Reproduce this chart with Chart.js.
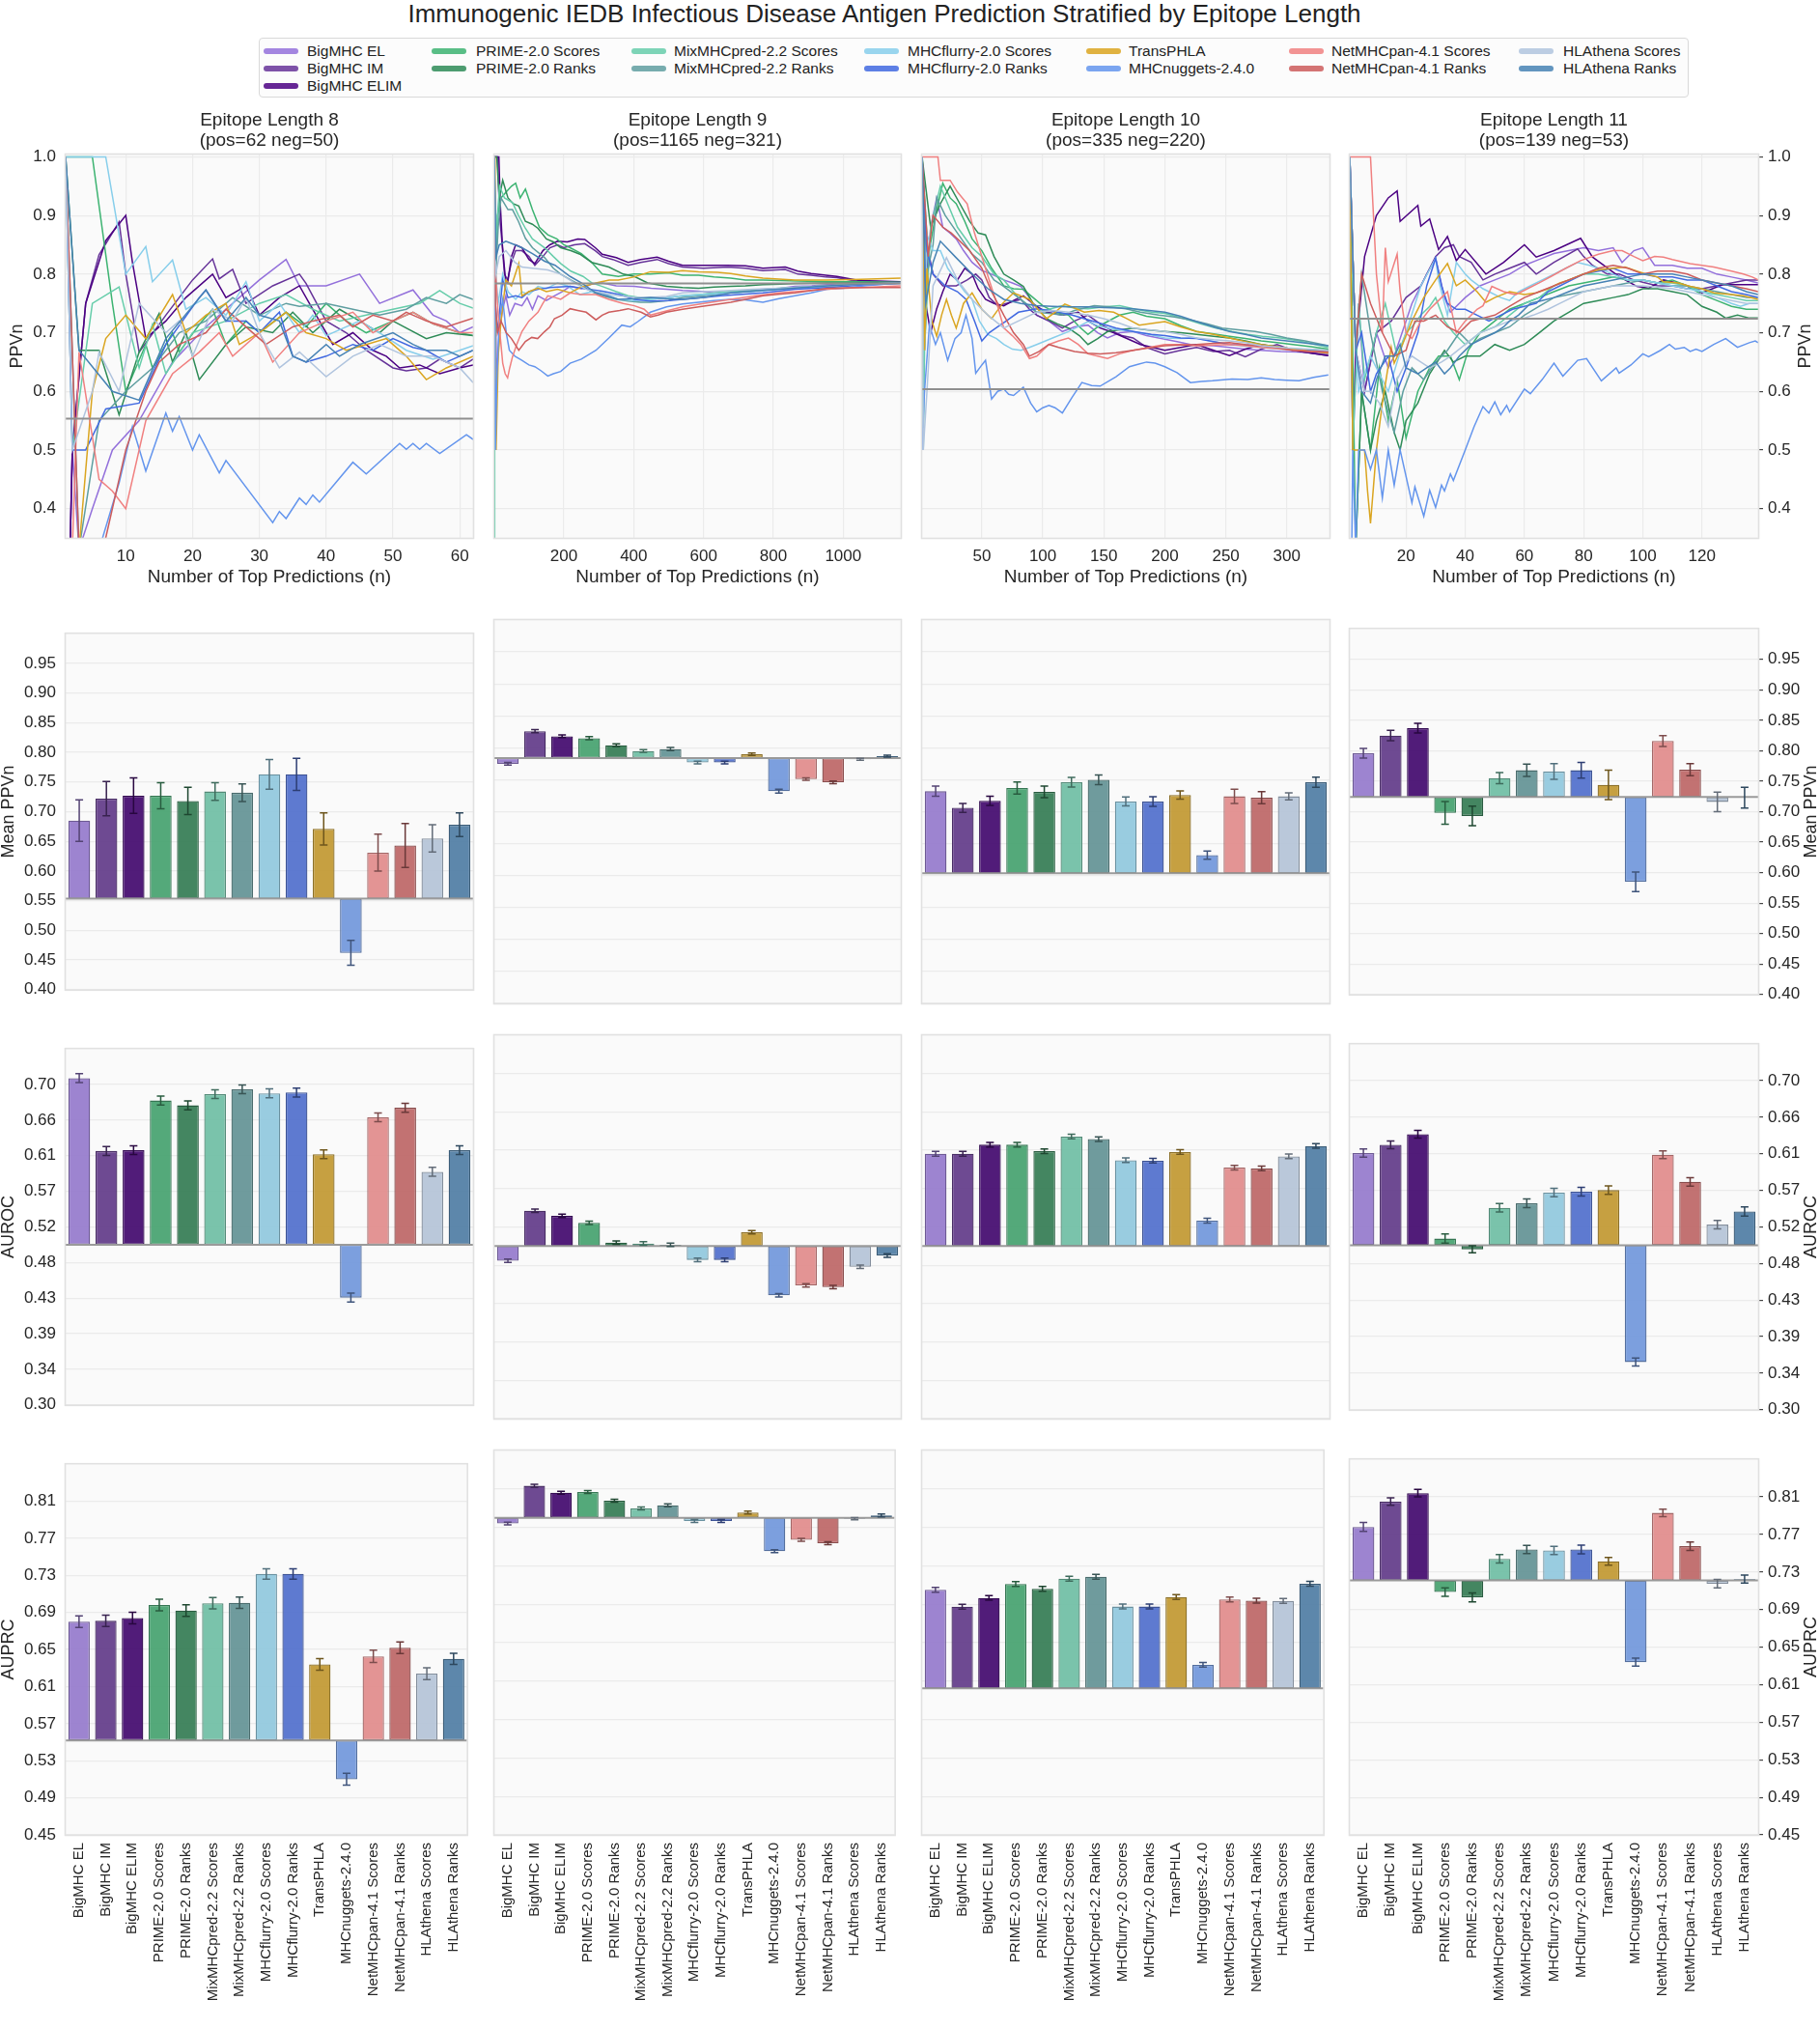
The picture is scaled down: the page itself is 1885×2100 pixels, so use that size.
<!DOCTYPE html>
<html><head><meta charset="utf-8">
<script src="https://cdn.jsdelivr.net/npm/chart.js@4.4.1/dist/chart.umd.min.js"></script>
<style>
body{margin:0;background:#fff;width:1885px;height:2100px;position:relative;overflow:hidden;font-family:"Liberation Sans",Arial,sans-serif;}
canvas{position:absolute;}
#title{position:absolute;top:0;left:0;width:1832px;text-align:center;font-size:26px;line-height:28px;color:#222;}
#legend{position:absolute;left:268px;top:39px;width:1481px;height:62px;border:1px solid #d9d9d9;border-radius:4px;background:#fcfcfc;box-sizing:border-box;}
.li{position:absolute;font-size:15.5px;color:#222;line-height:18px;white-space:nowrap;}
.hd{position:absolute;height:6px;width:36px;border-radius:3px;}
</style></head>
<body>
<div id="title">Immunogenic IEDB Infectious Disease Antigen Prediction Stratified by Epitope Length</div>
<div id="legend"></div>
<script>
// ---------------- DATA ----------------
const models = ['BigMHC EL','BigMHC IM','BigMHC ELIM','PRIME-2.0 Scores','PRIME-2.0 Ranks','MixMHCpred-2.2 Scores','MixMHCpred-2.2 Ranks','MHCflurry-2.0 Scores','MHCflurry-2.0 Ranks','TransPHLA','MHCnuggets-2.4.0','NetMHCpan-4.1 Scores','NetMHCpan-4.1 Ranks','HLAthena Scores','HLAthena Ranks'];
const colors = ['#9370DB','#663399','#4B0082','#3CB371','#2E8B57','#66CDAA','#5F9EA0','#87CEEB','#4169E1','#DAA520','#6495ED','#F08080','#CD5C5C','#B0C4DE','#4682B4'];
const epitopeLengths = [8,9,10,11];
const posCounts = [62,1165,335,139];
const negCounts = [50,321,220,53];
const ppvBaseline = [0.5536,0.784,0.6036,0.724];
const aurocBaseline = [0.5,0.5,0.5,0.5];
const auprcBaseline = [0.552,0.780,0.6024,0.721];

const xTicks_L8 = [10,20,30,40,50,60];
const xTicks_L9 = [200,400,600,800,1000];
const xTicks_L10 = [50,100,150,200,250,300];
const xTicks_L11 = [20,40,60,80,100,120];
const ppvTicks = [0.4,0.5,0.6,0.7,0.8,0.9,1.0];
const meanPPVTicks = [0.40,0.45,0.50,0.55,0.60,0.65,0.70,0.75,0.80,0.85,0.90,0.95];
const aurocTicks = [0.30,0.3444,0.3889,0.4333,0.4778,0.5222,0.5667,0.6111,0.6556,0.70];
const auprcTicks = [0.45,0.49,0.53,0.57,0.61,0.65,0.69,0.73,0.77,0.81];

// PPVn curves: [n, PPVn] vertices per model (order = models)
const ppvCurves_L8 = [
 [[1,0],[2,0.5],[3,0.33],[5,0.4],[8,0.5],[12,0.55],[17,0.65],[22,0.71],[27,0.76],[30,0.79],[34,0.825],[36,0.78],[40,0.78],[45,0.80],[48,0.75],[53,0.773],[56,0.73],[58,0.72],[60,0.70],[62,0.71]],
 [[1,0],[2,0.5],[4,0.75],[6,0.833],[9,0.889],[10,0.8],[12,0.667],[16,0.73],[20,0.79],[23,0.826],[24,0.792],[26,0.808],[28,0.75],[32,0.78],[36,0.80],[37,0.784],[40,0.72],[43,0.70],[46,0.67],[50,0.64],[52,0.635],[55,0.64],[57,0.655],[60,0.64],[62,0.655]],
 [[1,0],[2,0.5],[4,0.75],[7,0.857],[10,0.9],[11,0.82],[13,0.69],[16,0.72],[19,0.76],[23,0.80],[25,0.76],[28,0.78],[30,0.73],[33,0.76],[36,0.78],[38,0.74],[41,0.68],[44,0.70],[47,0.67],[49,0.66],[51,0.64],[54,0.645],[57,0.63],[60,0.64],[62,0.645]],
 [[1,1],[5,1],[8,0.75],[10,0.6],[13,0.68],[14,0.64],[17,0.70],[18,0.667],[21,0.714],[23,0.74],[25,0.68],[28,0.72],[30,0.70],[34,0.735],[37,0.71],[40,0.75],[43,0.72],[46,0.70],[50,0.72],[53,0.735],[56,0.715],[60,0.70],[62,0.695]],
 [[1,1],[3,0.67],[6,0.67],[9,0.56],[12,0.667],[15,0.733],[17,0.65],[19,0.70],[21,0.62],[25,0.68],[28,0.71],[32,0.70],[35,0.735],[38,0.70],[42,0.74],[45,0.72],[48,0.70],[50,0.72],[55,0.69],[58,0.70],[62,0.695]],
 [[1,1],[2,0.5],[5,0.75],[9,0.778],[12,0.64],[14,0.714],[16,0.63],[20,0.70],[25,0.72],[30,0.75],[34,0.765],[38,0.74],[42,0.72],[46,0.73],[50,0.74],[54,0.75],[57,0.772],[60,0.75],[62,0.742]],
 [[1,1],[3,0.33],[6,0.55],[10,0.6],[14,0.64],[18,0.70],[22,0.72],[26,0.76],[30,0.73],[34,0.75],[36,0.745],[40,0.75],[44,0.74],[48,0.73],[52,0.74],[55,0.76],[58,0.75],[60,0.765],[62,0.757]],
 [[1,1],[7,1],[10,0.8],[13,0.847],[14,0.787],[17,0.824],[19,0.74],[22,0.76],[25,0.73],[28,0.787],[30,0.72],[33,0.75],[36,0.70],[38,0.73],[40,0.695],[45,0.72],[48,0.70],[52,0.67],[56,0.655],[60,0.67],[62,0.678]],
 [[1,1],[2,0.5],[4,0.5],[7,0.57],[12,0.58],[16,0.68],[21,0.76],[22,0.773],[25,0.72],[28,0.72],[30,0.70],[33,0.735],[35,0.66],[37,0.65],[40,0.66],[44,0.68],[47,0.67],[50,0.69],[53,0.675],[55,0.67],[58,0.65],[60,0.66],[62,0.67]],
 [[1,0],[2,0],[3,0.33],[5,0.6],[7,0.69],[10,0.73],[13,0.69],[17,0.765],[19,0.70],[22,0.73],[25,0.75],[27,0.68],[30,0.70],[34,0.735],[37,0.70],[40,0.69],[43,0.67],[46,0.68],[49,0.69],[52,0.66],[55,0.62],[58,0.64],[62,0.66]],
 [[1,0],[2,0],[4,0.25],[6,0.33],[9,0.444],[11,0.54],[13,0.464],[16,0.563],[17,0.532],[18,0.557],[20,0.50],[21,0.526],[24,0.461],[25,0.482],[32,0.376],[33,0.395],[34,0.383],[36,0.418],[37,0.407],[38,0.423],[39,0.411],[44,0.479],[46,0.459],[51,0.511],[52,0.501],[53,0.511],[54,0.501],[55,0.511],[57,0.494],[61,0.526],[62,0.518]],
 [[1,0],[3,0.667],[6,0.45],[8,0.43],[10,0.40],[13,0.55],[17,0.63],[21,0.667],[24,0.70],[26,0.66],[30,0.70],[32,0.65],[36,0.70],[40,0.72],[44,0.735],[47,0.70],[50,0.72],[53,0.735],[56,0.715],[60,0.70],[62,0.70]],
 [[1,1],[3,0.33],[5,0.2],[7,0.35],[10,0.5],[13,0.6],[15,0.65],[18,0.68],[22,0.70],[25,0.74],[27,0.72],[30,0.69],[31,0.68],[35,0.71],[38,0.72],[42,0.73],[44,0.71],[47,0.73],[50,0.72],[52,0.735],[55,0.72],[58,0.71],[62,0.725]],
 [[1,1],[2,0.5],[5,0.6],[6,0.667],[9,0.6],[12,0.75],[16,0.70],[18,0.72],[20,0.66],[23,0.74],[26,0.72],[28,0.76],[30,0.70],[33,0.64],[36,0.667],[40,0.625],[44,0.66],[48,0.68],[52,0.66],[56,0.66],[60,0.64],[62,0.615]],
 [[1,1],[3,0.67],[8,0.6],[12,0.585],[16,0.69],[22,0.773],[25,0.72],[28,0.76],[30,0.73],[33,0.72],[35,0.66],[37,0.65],[40,0.68],[42,0.66],[45,0.68],[50,0.70],[53,0.68],[55,0.67],[58,0.67],[60,0.66],[62,0.67]]
];
const ppvCurves_L9 = [
 [[1,1],[4,0.75],[8,0.62],[15,0.70],[25,0.74],[34,0.763],[45,0.73],[60,0.75],[80,0.746],[95,0.76],[110,0.74],[126,0.763],[150,0.755],[173,0.763],[195,0.77],[218,0.779],[250,0.775],[280,0.783],[310,0.785],[350,0.78],[402,0.779],[450,0.776],[494,0.774],[540,0.772],[586,0.771],[630,0.768],[678,0.769],[720,0.772],[770,0.774],[820,0.776],[862,0.779],[910,0.78],[954,0.782],[1000,0.784],[1050,0.785],[1100,0.786],[1165,0.786]],
 [[1,1],[10,1],[16,0.9],[22,0.86],[30,0.80],[39,0.79],[50,0.82],[62,0.84],[80,0.84],[100,0.83],[117,0.815],[140,0.83],[160,0.845],[182,0.85],[200,0.845],[230,0.85],[260,0.852],[290,0.84],[310,0.83],[340,0.825],[384,0.815],[420,0.82],[467,0.825],[500,0.818],[540,0.812],[600,0.81],[669,0.812],[720,0.81],[770,0.806],[834,0.808],[870,0.80],[908,0.798],[950,0.795],[982,0.794],[1046,0.787],[1100,0.787],[1165,0.786]],
 [[1,1],[14,1],[18,0.92],[24,0.85],[33,0.79],[39,0.785],[50,0.83],[62,0.85],[80,0.845],[100,0.825],[117,0.818],[140,0.84],[160,0.85],[182,0.856],[210,0.855],[240,0.86],[260,0.859],[290,0.845],[310,0.834],[350,0.828],[384,0.82],[420,0.825],[467,0.829],[500,0.822],[540,0.815],[600,0.815],[669,0.815],[720,0.814],[770,0.81],[834,0.812],[870,0.805],[908,0.801],[950,0.798],[982,0.796],[1046,0.789],[1100,0.788],[1165,0.787]],
 [[1,1],[5,0.8],[10,0.9],[20,0.93],[35,0.94],[50,0.95],[62,0.955],[75,0.93],[90,0.945],[110,0.91],[130,0.88],[154,0.867],[180,0.86],[200,0.85],[218,0.845],[250,0.835],[280,0.82],[310,0.80],[356,0.796],[400,0.80],[448,0.80],[500,0.802],[540,0.798],[586,0.798],[630,0.795],[678,0.793],[720,0.79],[770,0.79],[820,0.789],[870,0.788],[954,0.787],[1050,0.787],[1165,0.786]],
 [[1,1],[8,1],[15,0.93],[25,0.96],[40,0.93],[55,0.92],[71,0.916],[90,0.89],[110,0.885],[126,0.878],[150,0.86],[170,0.855],[191,0.845],[220,0.84],[246,0.834],[280,0.82],[329,0.812],[370,0.80],[402,0.796],[440,0.785],[494,0.779],[540,0.777],[586,0.776],[630,0.778],[678,0.779],[720,0.78],[770,0.782],[820,0.783],[862,0.784],[954,0.785],[1165,0.785]],
 [[1,0],[2,0.5],[5,0.8],[10,0.9],[16,0.95],[30,0.93],[53,0.922],[70,0.90],[90,0.878],[110,0.86],[145,0.845],[170,0.83],[191,0.818],[220,0.805],[255,0.796],[280,0.785],[310,0.779],[350,0.77],[384,0.763],[420,0.76],[448,0.757],[500,0.76],[540,0.763],[600,0.766],[678,0.771],[740,0.772],[816,0.776],[880,0.778],[954,0.78],[1050,0.783],[1165,0.785]],
 [[1,1],[5,0.8],[12,0.88],[20,0.93],[40,0.91],[53,0.91],[70,0.89],[90,0.861],[110,0.845],[145,0.828],[170,0.81],[191,0.80],[220,0.79],[255,0.779],[280,0.77],[310,0.763],[350,0.757],[384,0.754],[420,0.752],[448,0.752],[500,0.755],[540,0.76],[600,0.763],[678,0.768],[740,0.771],[816,0.775],[880,0.777],[954,0.78],[1050,0.783],[1165,0.785]],
 [[1,1],[5,0.8],[12,0.75],[25,0.80],[40,0.77],[62,0.757],[80,0.77],[100,0.765],[126,0.779],[150,0.775],[182,0.785],[210,0.78],[246,0.765],[280,0.77],[310,0.768],[356,0.757],[400,0.755],[448,0.757],[500,0.76],[540,0.763],[600,0.765],[678,0.768],[740,0.77],[816,0.774],[880,0.776],[954,0.779],[1050,0.782],[1165,0.785]],
 [[1,1],[4,0.75],[10,0.7],[25,0.79],[40,0.76],[62,0.763],[80,0.76],[100,0.77],[126,0.774],[160,0.777],[218,0.779],[260,0.775],[310,0.771],[360,0.765],[402,0.757],[448,0.754],[500,0.755],[540,0.757],[600,0.76],[650,0.763],[720,0.766],[770,0.768],[862,0.774],[954,0.777],[1050,0.781],[1165,0.784]],
 [[1,1],[3,0.67],[6,0.5],[12,0.66],[20,0.72],[34,0.79],[50,0.78],[71,0.818],[80,0.763],[100,0.77],[126,0.776],[150,0.77],[182,0.774],[218,0.768],[250,0.778],[292,0.785],[330,0.79],[356,0.79],[400,0.795],[448,0.804],[500,0.803],[540,0.806],[586,0.804],[640,0.803],[678,0.801],[720,0.797],[770,0.793],[862,0.79],[954,0.79],[1050,0.791],[1165,0.793]],
 [[1,1],[4,0.5],[8,0.62],[15,0.72],[25,0.757],[35,0.70],[44,0.67],[60,0.66],[80,0.653],[100,0.645],[117,0.642],[135,0.635],[154,0.626],[170,0.63],[191,0.634],[218,0.648],[250,0.655],[292,0.67],[329,0.691],[366,0.713],[390,0.71],[412,0.719],[448,0.735],[494,0.744],[540,0.749],[586,0.752],[630,0.755],[678,0.757],[720,0.756],[770,0.752],[816,0.758],[862,0.763],[908,0.768],[954,0.774],[1000,0.776],[1046,0.779],[1100,0.782],[1165,0.785]],
 [[1,1],[5,0.8],[12,0.73],[20,0.68],[25,0.648],[32,0.63],[39,0.623],[45,0.64],[53,0.659],[65,0.68],[80,0.702],[100,0.72],[126,0.735],[140,0.75],[154,0.763],[175,0.76],[191,0.757],[218,0.768],[250,0.765],[292,0.765],[329,0.757],[370,0.75],[402,0.746],[430,0.74],[448,0.73],[480,0.735],[540,0.744],[600,0.75],[678,0.757],[750,0.763],[816,0.768],[880,0.771],[954,0.774],[1050,0.777],[1165,0.78]],
 [[1,1],[4,0.75],[10,0.7],[20,0.72],[35,0.70],[50,0.69],[71,0.67],[90,0.685],[108,0.692],[125,0.69],[145,0.702],[160,0.71],[173,0.724],[195,0.73],[218,0.741],[240,0.738],[264,0.735],[292,0.722],[310,0.73],[329,0.735],[360,0.738],[384,0.741],[421,0.735],[448,0.727],[470,0.73],[494,0.735],[540,0.74],[586,0.744],[630,0.748],[678,0.752],[720,0.757],[770,0.763],[820,0.766],[862,0.768],[910,0.772],[954,0.776],[1050,0.777],[1165,0.777]],
 [[1,1],[5,0.8],[15,0.83],[34,0.84],[60,0.82],[80,0.812],[110,0.81],[154,0.807],[191,0.80],[230,0.785],[264,0.774],[310,0.768],[356,0.763],[402,0.76],[448,0.76],[494,0.762],[540,0.768],[600,0.77],[678,0.772],[740,0.774],[816,0.776],[880,0.778],[954,0.78],[1050,0.783],[1165,0.785]],
 [[1,1],[6,0.83],[15,0.85],[34,0.856],[60,0.85],[80,0.845],[110,0.835],[145,0.822],[175,0.815],[218,0.796],[250,0.785],[292,0.768],[330,0.762],[356,0.757],[402,0.758],[448,0.76],[494,0.758],[540,0.757],[600,0.76],[678,0.768],[740,0.771],[816,0.774],[880,0.777],[954,0.78],[1050,0.783],[1165,0.785]]
];
const ppvCurves_L10 = [
 [[1,1],[4,0.75],[8,0.88],[13,0.93],[18,0.88],[24,0.87],[29,0.86],[35,0.84],[42,0.82],[50,0.806],[58,0.80],[68,0.79],[75,0.785],[82,0.779],[89,0.76],[95,0.73],[105,0.72],[116,0.702],[126,0.71],[137,0.713],[145,0.70],[153,0.691],[163,0.70],[174,0.702],[185,0.695],[195,0.691],[210,0.685],[221,0.68],[240,0.678],[253,0.675],[266,0.672],[279,0.67],[295,0.668],[310,0.667],[334,0.664]],
 [[1,1],[3,0.67],[6,0.84],[10,0.80],[18,0.78],[24,0.78],[29,0.78],[38,0.79],[45,0.80],[50,0.79],[56,0.76],[63,0.746],[70,0.75],[82,0.757],[89,0.74],[95,0.73],[105,0.72],[116,0.708],[126,0.72],[137,0.73],[147,0.715],[158,0.702],[165,0.695],[174,0.691],[185,0.675],[200,0.664],[213,0.67],[226,0.675],[240,0.668],[253,0.67],[266,0.659],[279,0.672],[292,0.68],[305,0.67],[320,0.665],[334,0.661]],
 [[1,1],[4,0.75],[8,0.70],[13,0.741],[18,0.77],[24,0.80],[30,0.79],[36,0.81],[42,0.80],[47,0.775],[53,0.757],[60,0.75],[68,0.746],[76,0.755],[84,0.763],[95,0.745],[103,0.735],[116,0.73],[129,0.735],[137,0.72],[147,0.708],[158,0.70],[168,0.691],[180,0.68],[190,0.675],[200,0.67],[213,0.675],[226,0.68],[240,0.67],[253,0.661],[266,0.672],[279,0.68],[292,0.675],[305,0.67],[334,0.661]],
 [[1,1],[6,0.83],[12,0.90],[18,0.955],[24,0.93],[29,0.92],[36,0.89],[42,0.86],[50,0.84],[58,0.81],[68,0.78],[76,0.775],[84,0.774],[92,0.76],[100,0.746],[110,0.735],[121,0.73],[130,0.71],[137,0.697],[145,0.71],[153,0.719],[163,0.73],[174,0.735],[185,0.728],[200,0.724],[213,0.712],[226,0.702],[240,0.698],[253,0.694],[266,0.69],[279,0.686],[292,0.683],[305,0.68],[320,0.676],[334,0.672]],
 [[1,1],[8,0.88],[16,0.92],[24,0.95],[32,0.92],[40,0.89],[47,0.87],[53,0.867],[60,0.83],[68,0.80],[76,0.79],[84,0.779],[92,0.75],[103,0.724],[112,0.715],[121,0.708],[130,0.695],[137,0.68],[145,0.69],[153,0.702],[163,0.705],[174,0.708],[185,0.705],[200,0.702],[213,0.70],[226,0.697],[240,0.694],[253,0.691],[266,0.686],[279,0.68],[292,0.676],[305,0.672],[320,0.671],[334,0.67]],
 [[1,1],[2,0.5],[3,0.67],[8,0.88],[16,0.95],[22,0.92],[30,0.88],[42,0.845],[50,0.83],[60,0.80],[68,0.79],[80,0.76],[95,0.735],[105,0.74],[116,0.746],[126,0.742],[137,0.741],[150,0.744],[163,0.746],[176,0.74],[189,0.735],[200,0.733],[216,0.724],[230,0.715],[242,0.708],[255,0.702],[268,0.697],[280,0.694],[295,0.691],[310,0.686],[334,0.675]],
 [[1,1],[5,0.8],[10,0.85],[13,0.93],[20,0.9],[30,0.87],[42,0.834],[50,0.82],[60,0.79],[68,0.779],[80,0.76],[95,0.735],[105,0.733],[116,0.73],[126,0.738],[142,0.746],[155,0.744],[168,0.741],[180,0.735],[195,0.73],[208,0.727],[221,0.722],[235,0.715],[247,0.708],[260,0.705],[274,0.702],[287,0.697],[300,0.691],[315,0.686],[334,0.678]],
 [[1,1],[3,0.67],[5,0.867],[10,0.84],[16,0.84],[22,0.81],[29,0.79],[36,0.77],[42,0.757],[48,0.72],[55,0.697],[62,0.69],[68,0.68],[75,0.672],[82,0.67],[89,0.675],[95,0.68],[108,0.691],[121,0.702],[137,0.719],[145,0.712],[153,0.708],[163,0.705],[174,0.702],[187,0.697],[200,0.691],[213,0.69],[226,0.691],[240,0.685],[253,0.68],[266,0.677],[279,0.675],[300,0.671],[334,0.667]],
 [[1,1],[5,0.84],[10,0.80],[20,0.78],[30,0.77],[37,0.757],[44,0.72],[50,0.686],[56,0.70],[63,0.71],[70,0.72],[80,0.735],[95,0.741],[105,0.738],[113,0.735],[124,0.73],[134,0.724],[147,0.716],[160,0.708],[174,0.702],[189,0.697],[200,0.695],[213,0.691],[226,0.69],[240,0.685],[253,0.68],[266,0.679],[279,0.678],[300,0.673],[334,0.667]],
 [[1,1],[3,0.67],[5,0.81],[9,0.72],[13,0.694],[17,0.73],[21,0.757],[25,0.73],[29,0.708],[35,0.75],[42,0.768],[50,0.74],[58,0.724],[67,0.75],[76,0.768],[89,0.757],[96,0.74],[103,0.724],[110,0.735],[118,0.749],[126,0.742],[134,0.735],[146,0.738],[158,0.735],[168,0.725],[179,0.713],[190,0.716],[200,0.719],[213,0.71],[226,0.702],[240,0.697],[253,0.691],[266,0.685],[279,0.68],[292,0.676],[305,0.672],[334,0.665]],
 [[1,0.5],[3,0.6],[7,0.713],[12,0.68],[16,0.70],[22,0.653],[28,0.69],[33,0.70],[37,0.73],[42,0.69],[45,0.631],[50,0.645],[53,0.653],[58,0.587],[63,0.60],[68,0.604],[72,0.595],[76,0.593],[80,0.60],[84,0.607],[90,0.58],[95,0.565],[100,0.572],[105,0.576],[110,0.572],[116,0.563],[124,0.59],[132,0.615],[140,0.61],[147,0.609],[160,0.625],[171,0.642],[178,0.646],[185,0.65],[192,0.648],[200,0.642],[210,0.632],[221,0.615],[230,0.617],[239,0.618],[255,0.621],[268,0.62],[279,0.623],[290,0.62],[300,0.619],[310,0.618],[322,0.624],[334,0.628]],
 [[1,1],[14,1],[16,0.96],[24,0.96],[30,0.94],[38,0.92],[44,0.87],[50,0.83],[56,0.79],[63,0.745],[68,0.708],[75,0.695],[82,0.68],[89,0.656],[95,0.66],[105,0.68],[113,0.686],[121,0.691],[129,0.68],[137,0.664],[145,0.66],[153,0.656],[163,0.664],[174,0.67],[187,0.675],[200,0.68],[213,0.68],[226,0.678],[240,0.679],[253,0.68],[266,0.678],[279,0.675],[292,0.673],[305,0.67],[320,0.668],[334,0.667]],
 [[1,1],[6,0.83],[10,0.9],[18,0.88],[25,0.87],[30,0.86],[40,0.84],[50,0.81],[58,0.77],[68,0.73],[76,0.70],[84,0.68],[89,0.66],[97,0.668],[105,0.68],[113,0.675],[126,0.668],[137,0.665],[147,0.664],[160,0.666],[174,0.67],[187,0.674],[200,0.678],[213,0.679],[226,0.68],[240,0.682],[253,0.683],[266,0.68],[279,0.678],[292,0.675],[305,0.67],[320,0.668],[334,0.667]],
 [[1,1],[2,0.5],[5,0.6],[10,0.78],[21,0.828],[30,0.79],[42,0.757],[55,0.73],[68,0.708],[80,0.72],[95,0.735],[108,0.738],[121,0.735],[137,0.73],[150,0.724],[163,0.716],[174,0.708],[187,0.705],[200,0.702],[213,0.697],[226,0.691],[240,0.688],[253,0.686],[266,0.683],[279,0.678],[300,0.674],[334,0.67]],
 [[1,1],[4,0.75],[10,0.82],[16,0.856],[28,0.83],[42,0.80],[55,0.775],[68,0.757],[82,0.75],[95,0.746],[108,0.745],[121,0.744],[137,0.744],[150,0.743],[163,0.742],[174,0.741],[187,0.738],[200,0.735],[213,0.728],[226,0.719],[240,0.71],[253,0.702],[266,0.697],[279,0.691],[300,0.686],[334,0.678]]
];
const ppvCurves_L11 = [
 [[1,1],[2,0.5],[4,0.75],[6,0.6],[10,0.7],[14,0.64],[16,0.66],[22,0.75],[27,0.80],[30,0.827],[33,0.76],[35,0.735],[40,0.76],[45,0.78],[50,0.79],[55,0.80],[60,0.815],[65,0.825],[70,0.835],[75,0.84],[80,0.845],[85,0.84],[90,0.845],[93,0.82],[97,0.84],[100,0.845],[104,0.815],[110,0.815],[115,0.81],[120,0.81],[125,0.80],[130,0.795],[135,0.79],[139,0.785]],
 [[1,1],[3,0.67],[6,0.6],[10,0.7],[15,0.72],[20,0.76],[25,0.78],[30,0.83],[33,0.845],[36,0.85],[38,0.83],[42,0.82],[46,0.79],[50,0.80],[55,0.81],[60,0.82],[64,0.80],[70,0.82],[78,0.843],[80,0.83],[83,0.815],[88,0.80],[92,0.80],[97,0.79],[100,0.786],[105,0.78],[110,0.78],[115,0.775],[120,0.775],[125,0.78],[130,0.785],[135,0.79],[139,0.79]],
 [[1,1],[2,0.5],[3,0.67],[6,0.83],[10,0.9],[14,0.93],[17,0.942],[18,0.89],[24,0.917],[25,0.882],[28,0.894],[31,0.842],[34,0.864],[37,0.823],[40,0.842],[47,0.80],[53,0.82],[60,0.85],[64,0.829],[70,0.84],[79,0.861],[83,0.829],[89,0.807],[92,0.796],[98,0.779],[102,0.776],[107,0.79],[114,0.782],[120,0.768],[127,0.782],[134,0.782],[139,0.782]],
 [[1,1],[3,0.33],[5,0.6],[8,0.5],[11,0.64],[14,0.55],[17,0.62],[20,0.52],[24,0.60],[28,0.64],[31,0.66],[35,0.66],[38,0.62],[41,0.67],[45,0.70],[50,0.72],[55,0.74],[60,0.75],[65,0.76],[70,0.77],[75,0.78],[80,0.785],[85,0.79],[90,0.795],[95,0.79],[100,0.79],[105,0.785],[110,0.79],[115,0.78],[120,0.765],[125,0.755],[130,0.745],[135,0.74],[139,0.74]],
 [[1,0],[3,0.33],[5,0.6],[8,0.5],[10,0.55],[13,0.6],[16,0.53],[18,0.50],[20,0.55],[24,0.58],[28,0.63],[33,0.67],[36,0.65],[40,0.66],[45,0.66],[50,0.68],[55,0.67],[60,0.68],[65,0.70],[70,0.72],[75,0.735],[80,0.75],[85,0.755],[90,0.76],[95,0.765],[100,0.775],[105,0.775],[110,0.77],[115,0.765],[120,0.745],[125,0.735],[128,0.725],[132,0.73],[136,0.725],[139,0.725]],
 [[1,1],[2,0.5],[4,0.75],[6,0.62],[10,0.7],[13,0.75],[17,0.66],[20,0.70],[22,0.71],[25,0.73],[28,0.745],[30,0.76],[33,0.72],[36,0.70],[40,0.68],[45,0.70],[50,0.71],[55,0.73],[60,0.75],[65,0.76],[70,0.78],[75,0.79],[80,0.80],[85,0.80],[90,0.795],[95,0.79],[100,0.79],[105,0.785],[110,0.785],[115,0.78],[120,0.77],[125,0.765],[130,0.76],[135,0.755],[139,0.755]],
 [[1,1],[3,0.67],[5,0.8],[8,0.7],[12,0.6],[16,0.53],[19,0.6],[22,0.64],[26,0.62],[30,0.65],[34,0.67],[38,0.70],[42,0.68],[45,0.69],[50,0.70],[55,0.71],[60,0.73],[65,0.745],[70,0.76],[75,0.765],[80,0.77],[85,0.775],[90,0.78],[95,0.785],[100,0.79],[105,0.785],[110,0.78],[115,0.78],[120,0.775],[125,0.77],[130,0.765],[135,0.76],[139,0.76]],
 [[1,1],[3,0.67],[4,0.6],[8,0.66],[11,0.63],[14,0.6],[17,0.65],[20,0.7],[25,0.78],[30,0.827],[31,0.79],[34,0.73],[37,0.82],[40,0.80],[42,0.79],[46,0.775],[48,0.77],[52,0.76],[55,0.755],[58,0.77],[62,0.78],[66,0.79],[70,0.80],[74,0.81],[78,0.82],[82,0.815],[85,0.81],[90,0.80],[95,0.79],[100,0.79],[105,0.785],[110,0.78],[115,0.775],[120,0.77],[125,0.76],[130,0.75],[133,0.745],[136,0.75],[139,0.75]],
 [[1,1],[3,0.67],[5,0.7],[8,0.6],[10,0.63],[14,0.66],[17,0.6],[20,0.64],[24,0.70],[27,0.78],[30,0.827],[32,0.78],[34,0.75],[37,0.74],[40,0.74],[44,0.73],[48,0.72],[52,0.73],[56,0.74],[60,0.745],[64,0.75],[68,0.77],[72,0.78],[76,0.79],[80,0.80],[85,0.805],[90,0.81],[95,0.80],[100,0.80],[105,0.795],[110,0.795],[115,0.79],[120,0.79],[125,0.78],[130,0.77],[135,0.765],[139,0.76]],
 [[1,1],[2,0.5],[4,0.5],[6,0.5],[7,0.43],[8,0.375],[10,0.5],[12,0.58],[15,0.675],[16,0.648],[18,0.67],[22,0.72],[26,0.76],[30,0.79],[34,0.818],[37,0.78],[40,0.79],[44,0.77],[47,0.752],[50,0.76],[55,0.77],[60,0.765],[64,0.768],[68,0.775],[72,0.785],[75,0.79],[80,0.80],[85,0.807],[90,0.81],[94,0.812],[98,0.805],[101,0.80],[105,0.795],[107,0.787],[112,0.785],[116,0.779],[120,0.775],[124,0.768],[130,0.765],[134,0.763],[139,0.757]],
 [[1,0],[2,0.5],[3,0.33],[4,0.5],[6,0.5],[8,0.467],[10,0.5],[12,0.418],[14,0.5],[16,0.44],[18,0.5],[22,0.41],[23,0.437],[26,0.387],[28,0.431],[30,0.402],[32,0.44],[33,0.43],[35,0.459],[36,0.448],[40,0.50],[43,0.54],[46,0.574],[48,0.563],[50,0.582],[52,0.56],[54,0.576],[55,0.565],[60,0.604],[62,0.596],[66,0.62],[70,0.648],[73,0.626],[78,0.653],[81,0.656],[86,0.618],[91,0.64],[92,0.631],[96,0.645],[100,0.664],[102,0.659],[106,0.67],[109,0.68],[111,0.672],[114,0.675],[116,0.668],[118,0.672],[120,0.668],[124,0.68],[128,0.69],[132,0.675],[136,0.683],[138,0.686],[139,0.683]],
 [[1,1],[8,1],[10,0.8],[12,0.7],[13,0.845],[14,0.787],[17,0.834],[18,0.77],[20,0.70],[22,0.69],[25,0.72],[28,0.74],[32,0.76],[34,0.77],[37,0.70],[40,0.72],[44,0.74],[46,0.746],[49,0.779],[53,0.77],[57,0.765],[61,0.775],[65,0.785],[69,0.796],[74,0.81],[79,0.823],[85,0.834],[90,0.84],[93,0.84],[97,0.83],[100,0.823],[104,0.83],[107,0.829],[110,0.825],[116,0.818],[120,0.815],[124,0.812],[130,0.805],[134,0.80],[137,0.795],[139,0.79]],
 [[1,1],[3,0.67],[5,0.8],[8,0.75],[12,0.7],[16,0.66],[20,0.67],[23,0.72],[26,0.72],[30,0.73],[34,0.71],[38,0.70],[42,0.72],[46,0.725],[50,0.73],[55,0.745],[60,0.76],[65,0.77],[70,0.78],[75,0.79],[80,0.80],[85,0.81],[90,0.815],[95,0.81],[100,0.80],[105,0.805],[110,0.805],[115,0.80],[120,0.79],[125,0.785],[130,0.78],[135,0.775],[139,0.77]],
 [[1,1],[3,0.67],[6,0.6],[8,0.6],[11,0.58],[14,0.54],[17,0.62],[20,0.65],[22,0.66],[25,0.65],[28,0.64],[32,0.65],[35,0.66],[40,0.68],[45,0.70],[50,0.71],[55,0.72],[60,0.725],[63,0.73],[68,0.74],[72,0.75],[76,0.76],[80,0.77],[85,0.775],[90,0.78],[95,0.78],[100,0.78],[105,0.778],[110,0.775],[115,0.77],[120,0.765],[125,0.76],[130,0.755],[135,0.75],[139,0.75]],
 [[1,1],[3,0.67],[5,0.6],[8,0.58],[10,0.62],[13,0.66],[16,0.66],[18,0.68],[20,0.64],[24,0.63],[27,0.64],[30,0.65],[33,0.63],[35,0.64],[38,0.66],[42,0.68],[46,0.69],[50,0.70],[53,0.71],[55,0.72],[58,0.73],[62,0.75],[66,0.755],[70,0.76],[75,0.77],[80,0.78],[85,0.785],[90,0.79],[95,0.795],[100,0.80],[105,0.80],[110,0.80],[115,0.795],[120,0.79],[125,0.785],[130,0.78],[135,0.77],[139,0.765]]
];

// Mean PPVn bars and CI half-widths
const meanPPV_L8 = [0.685,0.722,0.727,0.727,0.718,0.734,0.732,0.763,0.763,0.671,0.462,0.631,0.643,0.655,0.678];
const meanPPVErr_L8 = [0.035,0.029,0.030,0.022,0.023,0.015,0.015,0.025,0.027,0.027,0.021,0.031,0.037,0.023,0.020];
const meanPPV_L9 = [0.775,0.826,0.818,0.815,0.804,0.795,0.798,0.777,0.777,0.790,0.732,0.751,0.746,0.782,0.787];
const meanPPVErr_L9 = [0.002,0.0025,0.002,0.0025,0.002,0.002,0.0025,0.002,0.002,0.002,0.003,0.002,0.002,0.0015,0.0015];
const meanPPV_L10 = [0.732,0.706,0.717,0.737,0.731,0.746,0.750,0.716,0.716,0.726,0.632,0.724,0.722,0.724,0.746];
const meanPPVErr_L10 = [0.008,0.007,0.007,0.0095,0.009,0.0075,0.0075,0.007,0.0075,0.0065,0.0065,0.011,0.0095,0.0055,0.008];
const meanPPV_L11 = [0.796,0.825,0.837,0.698,0.693,0.755,0.768,0.766,0.768,0.744,0.585,0.816,0.769,0.716,0.723];
const meanPPVErr_L11 = [0.008,0.0085,0.008,0.0185,0.016,0.009,0.010,0.013,0.013,0.024,0.016,0.009,0.010,0.016,0.017];
// AUROC
const auroc_L8 = [0.708,0.617,0.618,0.680,0.674,0.688,0.694,0.689,0.690,0.613,0.434,0.659,0.671,0.591,0.618];
const aurocErr_L8 = [0.0055,0.0055,0.0055,0.0055,0.0055,0.0055,0.0055,0.0055,0.0055,0.0055,0.0055,0.0055,0.0055,0.0055,0.0055];
const auroc_L9 = [0.483,0.541,0.535,0.527,0.504,0.503,0.5015,0.484,0.484,0.516,0.443,0.4545,0.4526,0.476,0.489];
const aurocErr_L9 = [0.002,0.002,0.002,0.002,0.002,0.002,0.002,0.002,0.002,0.002,0.002,0.002,0.002,0.002,0.002];
const auroc_L10 = [0.607,0.607,0.6175,0.6175,0.610,0.627,0.624,0.5995,0.599,0.609,0.5295,0.591,0.590,0.604,0.616];
const aurocErr_L10 = [0.0027,0.0027,0.0027,0.0027,0.0027,0.0027,0.0027,0.0027,0.0027,0.0027,0.0027,0.0027,0.0027,0.0027,0.0027];
const auroc_L11 = [0.612,0.622,0.635,0.508,0.495,0.5455,0.551,0.564,0.565,0.567,0.358,0.610,0.577,0.525,0.541];
const aurocErr_L11 = [0.005,0.0047,0.0047,0.0056,0.0043,0.0052,0.0052,0.0052,0.0052,0.0052,0.0048,0.0047,0.0052,0.0052,0.0056];
// AUPRC
const auprc_L8 = [0.680,0.681,0.684,0.698,0.692,0.700,0.7005,0.7316,0.7316,0.634,0.510,0.6426,0.652,0.624,0.640];
const auprcErr_L8 = [0.0062,0.0062,0.0062,0.0062,0.0062,0.0062,0.0062,0.0056,0.0056,0.0062,0.0064,0.0066,0.0062,0.0064,0.006];
const auprc_L9 = [0.774,0.8132,0.806,0.8068,0.7978,0.7897,0.793,0.7766,0.7766,0.7854,0.7452,0.757,0.7535,0.779,0.7823];
const auprcErr_L9 = [0.0015,0.0015,0.0015,0.0015,0.0015,0.0015,0.0015,0.0015,0.0015,0.0015,0.0015,0.0015,0.0015,0.0012,0.0015];
const auprc_L10 = [0.705,0.6874,0.6966,0.711,0.706,0.7166,0.7186,0.6876,0.6876,0.6975,0.627,0.695,0.6937,0.6935,0.7112];
const auprcErr_L10 = [0.0025,0.0025,0.0025,0.0025,0.0025,0.0025,0.0025,0.0025,0.0025,0.0025,0.0025,0.0025,0.0025,0.0025,0.0025];
const auprc_L11 = [0.778,0.805,0.814,0.7087,0.703,0.744,0.754,0.753,0.754,0.7414,0.634,0.793,0.7575,0.7175,0.7225];
const auprcErr_L11 = [0.0047,0.004,0.004,0.0045,0.0047,0.0045,0.0043,0.0043,0.0047,0.0042,0.0043,0.004,0.0045,0.0045,0.0043];

// ---------------- STYLE / LAYOUT ----------------
const FONT = '"Liberation Sans", Arial, sans-serif';
const TXT = '#262626';
const GRID = '#ebebeb';
Chart.defaults.font.family = FONT;
Chart.defaults.color = TXT;
const plotX = [[68,490],[512,933],[955,1377],[1398,1821]];
const plotY = [[160,557],[642,1039],[1072,1469],[1502,1900]];

function hexRgb(h){return [parseInt(h.slice(1,3),16),parseInt(h.slice(3,5),16),parseInt(h.slice(5,7),16)];}
function desat(h,s){
  let [r,g,b]=hexRgb(h).map(v=>v/255);
  const mx=Math.max(r,g,b),mn=Math.min(r,g,b),l=(mx+mn)/2; let hh=0,ss=0;
  if(mx!==mn){const d=mx-mn; ss=l>0.5?d/(2-mx-mn):d/(mx+mn);
    if(mx===r)hh=(g-b)/d+(g<b?6:0); else if(mx===g)hh=(b-r)/d+2; else hh=(r-g)/d+4; hh/=6;}
  ss*=s;
  function f(p,q,t){if(t<0)t+=1;if(t>1)t-=1;if(t<1/6)return p+(q-p)*6*t;if(t<1/2)return q;if(t<2/3)return p+(q-p)*(2/3-t)*6;return p;}
  let R,G,B; if(ss===0){R=G=B=l;}else{const q=l<0.5?l*(1+ss):l+ss-l*ss,p=2*l-q;R=f(p,q,hh+1/3);G=f(p,q,hh);B=f(p,q,hh-1/3);}
  return [R*255,G*255,B*255];
}
function rgba(c,a){return 'rgba('+c.map(v=>Math.round(v)).join(',')+','+a+')';}
function shade(c,f){return c.map(v=>v*f);}
const barFill = colors.map(c=>rgba(desat(c,0.75),0.95));
const barEdge = colors.map(c=>rgba(shade(desat(c,0.75),0.72),1));
const errCol = colors.map(c=>rgba(shade(desat(c,0.8),0.55),1));

// legend
(function(){
  const leg=document.getElementById('legend');
  const cols=[[0,1,2],[3,4],[5,6],[7,8],[9,10],[11,12],[13,14]];
  const hx=[272,446,653,894,1124,1334,1572], tx=[317,492,697,939,1168,1378,1618], ry=[52,70,88];
  cols.forEach((ids,ci)=>ids.forEach((m,ri)=>{
    const h=document.createElement('div'); h.className='hd';
    h.style.left=(hx[ci]-268)+'px'; h.style.top=(ry[ri]-3-39)+'px'; h.style.background=colors[m]; h.style.opacity='0.85';
    leg.appendChild(h);
    const t=document.createElement('div'); t.className='li'; t.textContent=models[m];
    t.style.left=(tx[ci]-268)+'px'; t.style.top=(ry[ri]-9-39)+'px'; leg.appendChild(t);
  }));
})();

const panelBg = {id:'panelBg',
  beforeDraw(chart){const {ctx,chartArea:a}=chart;ctx.save();ctx.fillStyle='#fafafa';ctx.fillRect(a.left,a.top,a.right-a.left,a.bottom-a.top);ctx.restore();},
  afterDraw(chart){const {ctx,chartArea:a}=chart;ctx.save();ctx.strokeStyle='#e1e1e1';ctx.lineWidth=1.6;ctx.strokeRect(a.left-0.5,a.top-0.5,a.right-a.left+1,a.bottom-a.top+1);ctx.restore();}
};
function panelTitle(lines){
  return {id:'panelTitle',afterDraw(chart){const {ctx,chartArea:a}=chart;ctx.save();
    ctx.font='19px '+FONT;ctx.fillStyle=TXT;ctx.textAlign='center';ctx.textBaseline='middle';
    const cx=(a.left+a.right)/2; lines.forEach((t,i)=>ctx.fillText(t,cx,a.top-35+i*20.5)); ctx.restore();}};
}
function rightTitle(text, canvasLeft, xAbs){
  return {id:'rightTitle',afterDraw(chart){const {ctx,chartArea:a}=chart;ctx.save();
    ctx.translate(xAbs-canvasLeft,(a.top+a.bottom)/2);ctx.rotate(-Math.PI/2);
    ctx.font='18px '+FONT;ctx.fillStyle=TXT;ctx.textAlign='center';ctx.textBaseline='middle';ctx.fillText(text,0,0);ctx.restore();}};
}
function barExtras(values, errs, base){
  return {id:'barExtras',afterDatasetsDraw(chart){
    const {ctx,chartArea:a,scales:{y}}=chart; const by=y.getPixelForValue(base);
    ctx.save(); ctx.strokeStyle='#9a9a9a'; ctx.lineWidth=2; ctx.beginPath(); ctx.moveTo(a.left,by); ctx.lineTo(a.right,by); ctx.stroke();
    const meta=chart.getDatasetMeta(0);
    meta.data.forEach((el,i)=>{
      const y1=y.getPixelForValue(values[i]+errs[i]), y2=y.getPixelForValue(values[i]-errs[i]);
      ctx.strokeStyle=errCol[i]; ctx.lineWidth=1.5; ctx.beginPath();
      ctx.moveTo(el.x,y1);ctx.lineTo(el.x,y2);
      ctx.moveTo(el.x-4,y1);ctx.lineTo(el.x+4,y1);ctx.moveTo(el.x-4,y2);ctx.lineTo(el.x+4,y2);ctx.stroke();
    });
    ctx.restore();}};
}

function makeCanvas(r,c){
  const padL=c===0?68:6, padR=c===3?64:6, padT=r===0?45:6, padB=r===0?62:(r===3?198:6);
  const [x0,x1]=plotX[c],[y0,y1]=plotY[r];
  const cv=document.createElement('canvas');
  const left=x0-padL, top=y0-padT, w=(x1-x0)+padL+padR, h=(y1-y0)+padT+padB;
  cv.width=w; cv.height=h; cv.style.left=left+'px'; cv.style.top=top+'px';
  cv.style.width=w+'px'; cv.style.height=h+'px';
  document.body.appendChild(cv);
  return {cv,left};
}

function yScale(c, min, max, ticks, dec, title){
  const o={min:min,max:max,
    afterBuildTicks:s=>{s.ticks=ticks.map(v=>({value:v}));},
    grid:{color:GRID,lineWidth:1.2,drawTicks:false},border:{display:false},
    ticks:{display:false,font:{size:17},color:TXT,padding:10,callback:v=>Number(v).toFixed(dec)}};
  if(c===0){o.position='left';o.afterFit=s=>{s.width=68;};o.ticks.display=true;
    o.title={display:true,text:title,font:{size:18,lineHeight:1},color:TXT,padding:{top:title==='PPVn'?9:0,bottom:0}};}
  else if(c===3){o.position='right';o.afterFit=s=>{s.width=64;};o.ticks.display=true;o.ticks.padding=5;
    o.grid={color:GRID,lineWidth:1.2,drawTicks:true,tickLength:5,tickColor:'#444',tickWidth:1.2};}
  else {o.position='left';o.afterFit=s=>{s.width=0;};}
  return o;
}

const lineSets=[ppvCurves_L8,ppvCurves_L9,ppvCurves_L10,ppvCurves_L11];
const xTickSets=[xTicks_L8,xTicks_L9,xTicks_L10,xTicks_L11];

// Row 0: PPVn curves
for(let c=0;c<4;c++){
  const {cv,left}=makeCanvas(0,c);
  const N=posCounts[c];
  const ds=lineSets[c].map((pts,i)=>({label:models[i],data:pts.map(p=>({x:p[0],y:p[1]})),borderColor:colors[i],borderWidth:1.5,pointRadius:0,tension:0,fill:false,order:-i}));
  ds.push({label:'baseline',data:[{x:1,y:ppvBaseline[c]},{x:N,y:ppvBaseline[c]}],borderColor:'#8f8f8f',borderWidth:2,pointRadius:0,order:-100});
  const plugins=[panelBg,panelTitle(['Epitope Length '+epitopeLengths[c],'(pos='+posCounts[c]+' neg='+negCounts[c]+')'])];
  if(c===3) plugins.push(rightTitle('PPVn',left,1870));
  new Chart(cv,{type:'line',data:{datasets:ds},plugins:plugins,
    options:{responsive:false,animation:false,devicePixelRatio:1,
      layout:{autoPadding:false,padding:{left:c===0?0:6,right:c===3?0:6,top:45,bottom:0}},
      plugins:{legend:{display:false},tooltip:{enabled:false},title:{display:false}},
      scales:{
        x:{type:'linear',min:1,max:N,afterBuildTicks:s=>{s.ticks=xTickSets[c].map(v=>({value:v}));},
          afterFit:s=>{s.height=62;},
          ticks:{font:{size:17},color:TXT,padding:9,maxRotation:0,autoSkip:false,callback:v=>String(v)},
          grid:{color:GRID,lineWidth:1.2,drawTicks:false},border:{display:false},
          title:{display:true,text:'Number of Top Predictions (n)',font:{size:19,lineHeight:1},color:TXT,padding:{top:0,bottom:12}}},
        y:yScale(c,0.35,1.004,ppvTicks,1,'PPVn')
      }}});
}

// Rows 1-3: bar panels
const barRows=[
 {vals:[meanPPV_L8,meanPPV_L9,meanPPV_L10,meanPPV_L11],errs:[meanPPVErr_L8,meanPPVErr_L9,meanPPVErr_L10,meanPPVErr_L11],base:ppvBaseline,min:0.40,max:1.0,ticks:meanPPVTicks,title:'Mean PPVn'},
 {vals:[auroc_L8,auroc_L9,auroc_L10,auroc_L11],errs:[aurocErr_L8,aurocErr_L9,aurocErr_L10,aurocErr_L11],base:aurocBaseline,min:0.30,max:0.7444,ticks:aurocTicks,title:'AUROC'},
 {vals:[auprc_L8,auprc_L9,auprc_L10,auprc_L11],errs:[auprcErr_L8,auprcErr_L9,auprcErr_L10,auprcErr_L11],base:auprcBaseline,min:0.45,max:0.85,ticks:auprcTicks,title:'AUPRC'}
];
barRows.forEach((row,ri)=>{
  const r=ri+1;
  for(let c=0;c<4;c++){
    const {cv,left}=makeCanvas(r,c);
    const vals=row.vals[c], errs=row.errs[c], base=row.base[c];
    const plugins=[panelBg,barExtras(vals,errs,base)]; if(c===3) plugins.push(rightTitle(row.title,left,1876));
    const last=(r===3);
    new Chart(cv,{type:'bar',
      data:{labels:models,datasets:[{data:vals.map(v=>[base,v]),backgroundColor:barFill,borderColor:barEdge,borderWidth:1.3,borderSkipped:false,barPercentage:0.8,categoryPercentage:1.0}]},
      plugins:plugins,
      options:{responsive:false,animation:false,devicePixelRatio:1,
        layout:{autoPadding:false,padding:{left:c===0?0:6,right:c===3?0:6,top:6,bottom:last?0:6}},
        plugins:{legend:{display:false},tooltip:{enabled:false},title:{display:false}},
        scales:{
          x:{type:'category',offset:true,afterFit:s=>{s.height=last?198:0;},
             grid:{display:false,drawTicks:false},border:{display:false},
             ticks:{display:last,autoSkip:false,minRotation:90,maxRotation:90,font:{size:15},color:TXT,padding:8}},
          y:yScale(c,row.min,row.max,row.ticks,2,row.title)
        }}});
  }
});
</script>
</body></html>
